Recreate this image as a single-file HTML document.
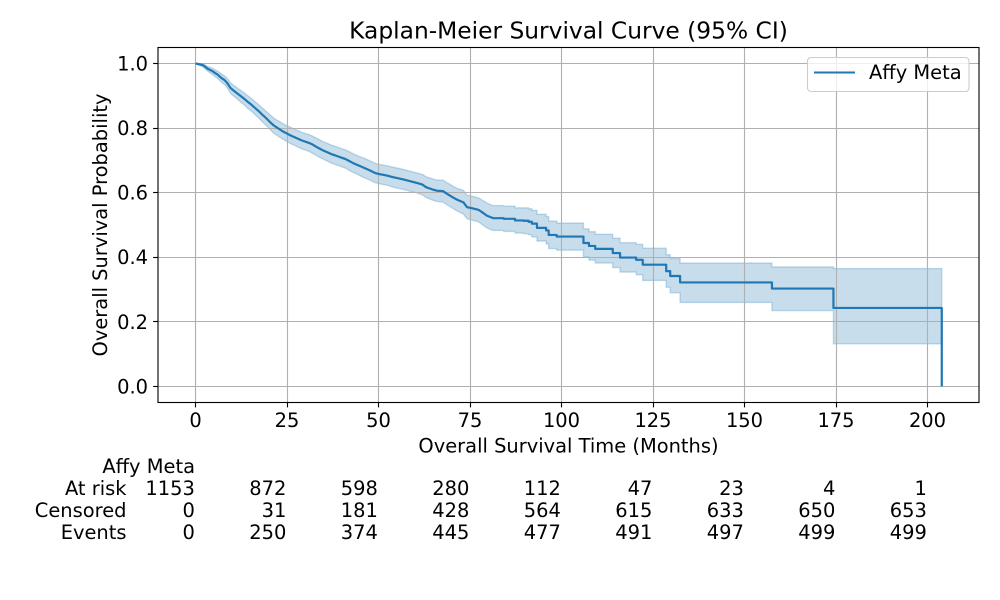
<!DOCTYPE html>
<html>
<head>
<meta charset="utf-8">
<title>Kaplan-Meier Survival Curve</title>
<style>
html,body{margin:0;padding:0;background:#fff;}
svg{display:block;}
text{font-family:"DejaVu Sans","Liberation Sans",sans-serif;fill:#000;}
</style>
</head>
<body>
<svg id="chart" width="1000" height="600" viewBox="0 0 1000 600" xmlns="http://www.w3.org/2000/svg">
  <rect x="0" y="0" width="1000" height="600" fill="#fff"/>
  <path id="ci" fill="#1f77b4" fill-opacity="0.25" stroke="#1f77b4" stroke-opacity="0.25" stroke-width="1.39"/>
  <g id="grid"></g>
  <path id="curve" fill="none" stroke="#1f77b4" stroke-width="2.2" stroke-linejoin="round"/>
  <g id="legend">
    <rect x="807.5" y="57.5" width="161.5" height="34" rx="3.5" fill="#fff" fill-opacity="0.8" stroke="#ccc" stroke-width="1.1"/>
    <line x1="814" x2="855" y1="72.5" y2="72.5" stroke="#1f77b4" stroke-width="2.08"/>
    <text x="869" y="79" font-size="19.44">Affy Meta</text>
  </g>
  <rect x="158" y="47.5" width="821" height="355" fill="none" stroke="#000" stroke-width="1.11"/>
  <g id="ticks"></g>
  <text x="568.5" y="38.5" font-size="23.33" text-anchor="middle">Kaplan-Meier Survival Curve (95% CI)</text>
  <text x="568.5" y="452.5" font-size="19.44" text-anchor="middle">Overall Survival Time (Months)</text>
  <text transform="translate(107 225) rotate(-90)" font-size="19.44" text-anchor="middle">Overall Survival Probability</text>
  <g id="table"></g>
</svg>
<script>
const xTicks = [0, 25, 50, 75, 100, 125, 150, 175, 200];
const yTicks = [0.0, 0.2, 0.4, 0.6, 0.8, 1.0];
const yTickLabels = ["0.0", "0.2", "0.4", "0.6", "0.8", "1.0"];

const times = [0,1,2,2.6,3.3,4,4.8,5.4,6,6.6,7.2,7.9,8.5,9,9.5,10.2,11,11.8,12.6,13.4,14.2,15,15.8,16.6,17.4,18.2,19,19.8,20.6,21.4,22.2,23,24,25,26,27,28,29,30,31,32,33,34,35,36,37,38,39,40,41,42,43,44,45,46,47,48,49,50,52.3,54,56.8,58.5,60.5,62,63,65,66,67.6,68.5,69.5,70.5,71.5,73.2,74.2,75.5,77.3,78.5,79.6,81.3,84.2,87.3,89.6,91,91.9,93.3,95.8,96.5,98.7,104.9,106,107.5,109.2,114,116,120.4,122.2,128.6,129.7,132.4,157.5,174.3,203.9];
const survival = [1,.998,.995,.99,.984,.98,.975,.97,.966,.96,.954,.949,.942,.934,.925,.918,.911,.904,.897,.89,.882,.875,.867,.859,.851,.842,.834,.825,.816,.808,.802,.796,.789,.783,.777,.772,.767,.762,.758,.754,.749,.742,.736,.73,.725,.72,.716,.712,.708,.704,.698,.692,.687,.682,.677,.672,.667,.661,.658,.653,.648,.641,.636,.63,.625,.617,.609,.606,.605,.598,.591,.584,.578,.57,.555,.552,.547,.538,.529,.521,.519,.514,.513,.51,.504,.491,.483,.469,.464,.464,.444,.435,.426,.413,.399,.392,.377,.357,.342,.322,.303,.243,0];
const lower = [1,.994,.99,.984,.976,.971,.965,.959,.954,.948,.941,.935,.927,.919,.909,.901,.894,.886,.878,.871,.862,.855,.847,.838,.83,.82,.812,.803,.793,.784,.778,.772,.765,.758,.752,.747,.741,.736,.732,.728,.722,.715,.709,.703,.698,.692,.688,.684,.68,.676,.669,.663,.658,.652,.647,.642,.637,.631,.628,.623,.617,.61,.605,.599,.593,.585,.576,.573,.571,.564,.557,.55,.543,.534,.519,.515,.51,.5,.491,.483,.48,.475,.473,.47,.463,.45,.441,.427,.422,.422,.401,.391,.382,.368,.354,.346,.328,.307,.29,.26,.235,.132,.132];
const upper = [1,1,.999,.996,.991,.988,.984,.98,.977,.972,.967,.962,.956,.949,.941,.934,.928,.921,.915,.908,.901,.894,.887,.879,.871,.863,.855,.847,.839,.831,.825,.82,.813,.807,.802,.797,.792,.787,.783,.78,.775,.769,.763,.757,.753,.748,.744,.74,.736,.732,.727,.721,.716,.711,.707,.702,.697,.691,.688,.683,.679,.672,.667,.661,.657,.649,.642,.639,.639,.632,.626,.619,.613,.607,.592,.589,.584,.576,.568,.56,.558,.553,.553,.55,.545,.533,.526,.512,.506,.506,.488,.479,.471,.459,.445,.44,.428,.408,.396,.382,.37,.365,.365];

const rowLabels = ["At risk", "Censored", "Events"];
const atRisk = [1153, 872, 598, 280, 112, 47, 23, 4, 1];
const censored = [0, 31, 181, 428, 564, 615, 633, 650, 653];
const events = [0, 250, 374, 445, 477, 491, 497, 499, 499];

const SVGNS = "http://www.w3.org/2000/svg";
const denseUntil = 82;
const xPos = t => 195.5 + 3.66 * t;
const yPos = v => 386.4 - 322.9 * v;
const snap = p => Math.floor(p) + 0.5;

function addLine(parent, x1, y1, x2, y2, color) {
  const el = document.createElementNS(SVGNS, "line");
  el.setAttribute("x1", x1);
  el.setAttribute("y1", y1);
  el.setAttribute("x2", x2);
  el.setAttribute("y2", y2);
  el.setAttribute("stroke", color);
  el.setAttribute("stroke-width", "1.11");
  parent.appendChild(el);
  return el;
}
function addText(parent, x, y, str, anchor) {
  const el = document.createElementNS(SVGNS, "text");
  el.setAttribute("x", x);
  el.setAttribute("y", y);
  el.setAttribute("font-size", "19.44");
  el.setAttribute("text-anchor", anchor);
  el.textContent = str;
  parent.appendChild(el);
  return el;
}

const gridG = document.getElementById("grid");
const ticksG = document.getElementById("ticks");
const tableG = document.getElementById("table");

xTicks.forEach(t => {
  const p = snap(xPos(t));
  const g = addLine(gridG, p, 47.5, p, 402.5, "#b0b0b0");
  
  
  const k = addLine(ticksG, p, 402.5, p, 407.4, "#000");
  
  
  const l = addText(ticksG, xPos(t), 427, String(t), "middle");
  
  
});
yTicks.forEach((v, i) => {
  const p = snap(yPos(v));
  const g = addLine(gridG, 158, p, 979, p, "#b0b0b0");
  
  
  const k = addLine(ticksG, 153.1, p, 158, p, "#000");
  
  
  const l = addText(ticksG, 148, yPos(v) + 7, yTickLabels[i], "end");
  
  
});

function segment(i, vals, dir) {
  const a = dir > 0 ? i - 1 : i;
  const b = dir > 0 ? i : i - 1;
  const x2 = xPos(times[b]).toFixed(2);
  const y1 = yPos(vals[a]).toFixed(2);
  const y2 = yPos(vals[b]).toFixed(2);
  if (times[i] <= denseUntil) return "L" + x2 + " " + y2;
  if (dir > 0) return "L" + x2 + " " + y1 + "L" + x2 + " " + y2;
  const x1 = xPos(times[a]).toFixed(2);
  return "L" + x1 + " " + y2 + "L" + x2 + " " + y2;
}

let curvePath = "M" + xPos(times[0]).toFixed(2) + " " + yPos(survival[0]).toFixed(2);
for (let i = 1; i < times.length; i++) curvePath += segment(i, survival, 1);
document.getElementById("curve").setAttribute("d", curvePath);

let ciPath = "M" + xPos(times[0]).toFixed(2) + " " + yPos(upper[0]).toFixed(2);
for (let i = 1; i < times.length; i++) ciPath += segment(i, upper, 1);
ciPath += "L" + xPos(times[times.length - 1]).toFixed(2) + " " + yPos(lower[times.length - 1]).toFixed(2);
for (let i = times.length - 1; i >= 1; i--) ciPath += segment(i, lower, -1);
document.getElementById("ci").setAttribute("d", ciPath + "Z");

const tableHead = addText(tableG, 195, 473, "Affy Meta", "end");


[atRisk, censored, events].forEach((row, r) => {
  const baseY = 495.2 + r * 22;
  const lab = addText(tableG, 126.5, baseY, rowLabels[r], "end");
  
  
  row.forEach((val, i) => {
    const c = addText(tableG, xPos(xTicks[i]) - 0.6, baseY, String(val), "end");
    
    
  });
});
</script>
</body>
</html>
